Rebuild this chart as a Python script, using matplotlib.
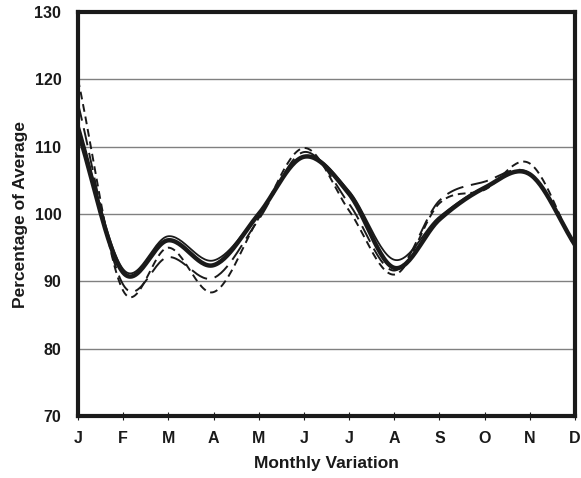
import numpy as np
import matplotlib
matplotlib.use("Agg")
import matplotlib.pyplot as plt

months = ["J", "F", "M", "A", "M", "J", "J", "A", "S", "O", "N", "D"]
thick_solid = [112.3, 91.3, 96.1, 92.4, 100.0, 108.5, 103.0, 92.0, 99.2, 103.9, 105.9, 95.4]
thin_solid = [113.5, 91.8, 96.7, 93.1, 100.0, 108.6, 103.4, 93.2, 99.6, 104.0, 105.8, 95.5]
long_dash = [116.4, 89.5, 93.6, 90.5, 99.2, 109.2, 101.5, 91.6, 102.0, 104.8, 106.0, 95.3]
short_dash = [120.0, 88.6, 95.0, 88.4, 99.4, 109.8, 100.5, 91.0, 101.6, 103.6, 107.5, 95.0]


def smooth(y, n=30):
    y = np.asarray(y, float)
    x = np.arange(len(y), dtype=float)
    p = np.concatenate([[2 * y[0] - y[1]], y, [2 * y[-1] - y[-2]]])
    xs, ys = [], []
    for i in range(len(y) - 1):
        p0, p1, p2, p3 = p[i], p[i + 1], p[i + 2], p[i + 3]
        t = np.linspace(0, 1, n, endpoint=False)
        v = 0.5 * ((2 * p1) + (-p0 + p2) * t + (2 * p0 - 5 * p1 + 4 * p2 - p3) * t ** 2
                   + (-p0 + 3 * p1 - 3 * p2 + p3) * t ** 3)
        xs.append(x[i] + t)
        ys.append(v)
    xs.append([x[-1]])
    ys.append([y[-1]])
    return np.concatenate(xs), np.concatenate(ys)


plt.rcParams['font.family'] = ['Liberation Sans', 'DejaVu Sans']
fig = plt.figure(figsize=(5.81, 4.78), dpi=100)
ax = fig.add_axes([78 / 581, 62 / 478, 497 / 581, 404 / 478])

for yv in [80, 90, 100, 110, 120]:
    ax.axhline(yv, color='#808080', lw=1.0, zorder=1)

xs, ys = smooth(short_dash)
ax.plot(xs, ys, color='#1a1a1a', lw=1.4, ls=(0, (4, 2.5)), zorder=3)
xs, ys = smooth(long_dash)
ax.plot(xs, ys, color='#1a1a1a', lw=1.4, ls=(0, (9, 4)), zorder=3)
xs, ys = smooth(thin_solid)
ax.plot(xs, ys, color='#1a1a1a', lw=1.3, zorder=4)
xs, ys = smooth(thick_solid)
ax.plot(xs, ys, color='#1a1a1a', lw=3.2, zorder=5)

ax.set_xlim(0, 11)
ax.set_ylim(70, 130)
ax.set_xticks(range(12))
ax.set_xticklabels(months, fontsize=11.5, fontweight='bold')
ax.set_yticks(range(70, 131, 10))
ax.set_yticklabels([str(v) for v in range(70, 131, 10)], fontsize=11.5, fontweight='bold')
ax.tick_params(axis='x', direction='inout', length=6, width=0.8, pad=8, colors='#1a1a1a')
ax.tick_params(axis='y', length=0, pad=12, colors='#1a1a1a')
for s in ax.spines.values():
    s.set_linewidth(3.0)
    s.set_color('#1a1a1a')
    s.set_zorder(6)
ax.set_xlabel('Monthly Variation', fontsize=12.5, fontweight='bold', color='#1a1a1a', labelpad=7)
ax.set_ylabel('Percentage of Average', fontsize=12.5, fontweight='bold', color='#1a1a1a', labelpad=5)

fig.savefig('out.png', dpi=100)
